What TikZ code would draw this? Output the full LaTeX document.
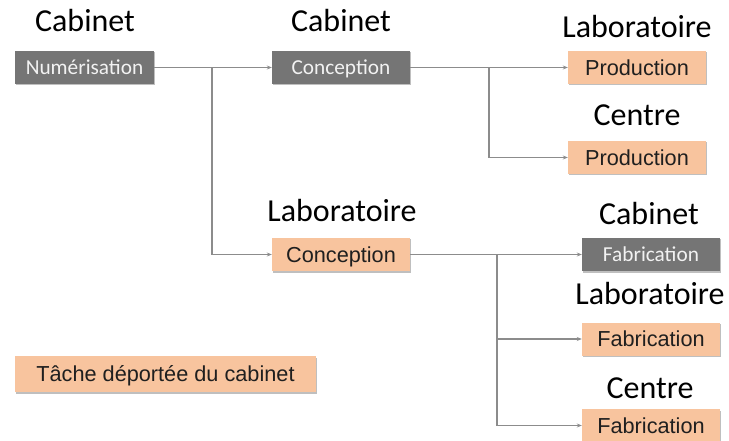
\documentclass[tikz,border=0pt]{standalone}
\usepackage{fontspec}
\setmainfont{Carlito}
\newfontfamily\arialf{Liberation Sans}
\usetikzlibrary{shadows,arrows.meta}
\definecolor{boxgray}{RGB}{117,117,117}
\definecolor{peach}{RGB}{248,196,158}
\definecolor{linegray}{RGB}{140,140,140}
\definecolor{textwhite}{RGB}{242,242,242}
\tikzset{
  basebox/.style={inner sep=0pt, minimum width=138pt, minimum height=33pt,
    drop shadow={shadow xshift=0.8pt, shadow yshift=-1.5pt, fill=black, opacity=0.25}},
  graybox/.style={basebox, fill=boxgray, text=textwhite, text height=13.6pt, text depth=0pt,
    font=\fontsize{21.3}{25}\selectfont},
  peachbox/.style={basebox, fill=peach, text=black!88, text height=15.4pt, text depth=0pt,
    font=\arialf\fontsize{21.7}{25}\selectfont},
  header/.style={anchor=base, inner sep=0pt, text=black, font=\fontsize{32}{38}\selectfont},
  conn/.style={draw=linegray, line width=1.2pt, -{Stealth[length=5pt,width=4pt]}}
}
\begin{document}
\begin{tikzpicture}[x=1pt,y=-1pt]
\useasboundingbox (0,0) rectangle (729,441);
% boxes
\node[graybox, minimum width=139pt] (num) at (84.5,67.5) {Numérisation};
\node[graybox] (conc1) at (341,67.5) {Conception};
\node[peachbox] (prod1) at (637,67.5) {Production};
\node[peachbox] (prod2) at (637,157.5) {Production};
\node[peachbox] (conc2) at (341,254.5) {Conception};
\node[graybox] (fab1) at (651,254.5) {Fabrication};
\node[peachbox] (fab2) at (651,339) {Fabrication};
\node[peachbox] (fab3) at (651,425.5) {Fabrication};
\node[peachbox, minimum width=301pt, minimum height=36pt] (legend) at (165.5,374) {Tâche déportée du cabinet};
% headers
\node[header] (h1) at (85,32) {Cabinet};
\node[header] (h2) at (341,32) {Cabinet};
\node[header] (h3) at (637,38) {Laboratoire};
\node[header] (h4) at (637,126) {Centre};
\node[header] (h5) at (342,222) {Laboratoire};
\node[header] (h6) at (649,225) {Cabinet};
\node[header] (h7) at (650,305) {Laboratoire};
\node[header] (h8) at (650,398) {Centre};
% branch points
\coordinate (b1) at (212,67.5);
\coordinate (b2) at (489,67.5);
\coordinate (b3) at (497,254.5);
% connectors
\draw[conn] (num.east) -- (conc1.west);
\draw[conn] (b1) |- (conc2.west);
\draw[conn] (conc1.east) -- (prod1.west);
\draw[conn] (b2) |- (prod2.west);
\draw[conn] (conc2.east) -- (fab1.west);
\draw[conn] (b3) |- (fab2.west);
\draw[conn] (b3) |- (fab3.west);
\end{tikzpicture}
\end{document}
